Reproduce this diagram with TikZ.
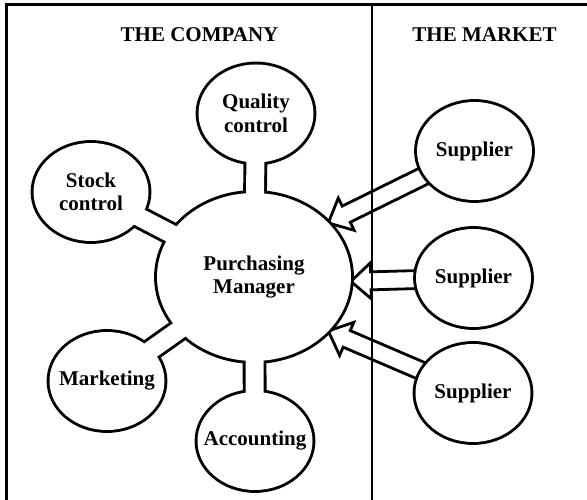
\documentclass[tikz,border=0pt]{standalone}
\usepackage{fontspec}
\setmainfont{Liberation Serif}
\usepackage{tikz}
\usetikzlibrary{calc,backgrounds}
\tikzset{
    bubble/.style={align=center,inner sep=0pt,font=\fontsize{21}{23.5}\selectfont\bfseries},
    heading/.style={anchor=base,font=\fontsize{21}{23.5}\selectfont\bfseries},
    rim/.style={draw,line width=5.8pt,line join=round},
    blank/.style={fill=white},
    flow/.style={draw,fill=white,line width=2.8pt,line join=miter},
}

\begin{document}
\begin{tikzpicture}[x=1pt,y=1pt]
    \clip (0,0) rectangle (587,500);
    \draw[line width=3pt] (6,-5) rectangle (595,495);
    \draw[line width=2.8pt] (372,495) -- (372,-5);
    \node[heading] (company) at (199.5,458) {THE COMPANY};
    \node[heading] (market) at (484.5,458) {THE MARKET};

    \node[bubble] (pm) at (254,223) {Purchasing\\Manager};
    \node[bubble] (qc) at (256,386.5) {Quality\\control};
    \node[bubble] (sc) at (91,308) {Stock\\control};
    \node[bubble] (mk) at (107,119) {Marketing};
    \node[bubble] (ac) at (255,59) {Accounting};
    \node[bubble] (s1) at (474.5,349) {Supplier};
    \node[bubble] (s2) at (473.5,222) {Supplier};
    \node[bubble] (s3) at (473,107) {Supplier};

    \begin{scope}[on background layer]
        % hollow arrows, tip on the manager's rim, tail hidden under the supplier
        \foreach \s/\a in {s1/40,s2/-3,s3/-40} {
            \coordinate (tip) at ($(pm)+(\a:97 and 84)$);
            \coordinate (base) at ($(tip)!20pt!(\s)$);
            \draw[flow] (tip) -- ($(base)!18pt!90:(\s)$) -- ($(base)!9pt!90:(\s)$)
                -- ($(\s)!9pt!-90:(tip)$) -- ($(\s)!9pt!90:(tip)$)
                -- ($(base)!9pt!-90:(\s)$) -- ($(base)!18pt!-90:(\s)$) -- cycle;
        }
        % thick stroke first, white fill on top: only the outer rim of bubbles and necks is left
        \foreach \f in {rim,blank} {
            \path[\f] (pm.center) ellipse[x radius=97,y radius=84];
            \foreach \b in {qc,sc,mk,ac,s1,s2,s3}
                \path[\f] (\b.center) ellipse[x radius=57.5,y radius=49];
            \foreach \b in {qc,sc,mk,ac}
                \path[\f] ($(pm)!9pt!90:(\b)$) -- ($(\b)!9pt!-90:(pm)$)
                    -- ($(\b)!9pt!90:(pm)$) -- ($(pm)!9pt!-90:(\b)$) -- cycle;
        }
    \end{scope}
\end{tikzpicture}
\end{document}
